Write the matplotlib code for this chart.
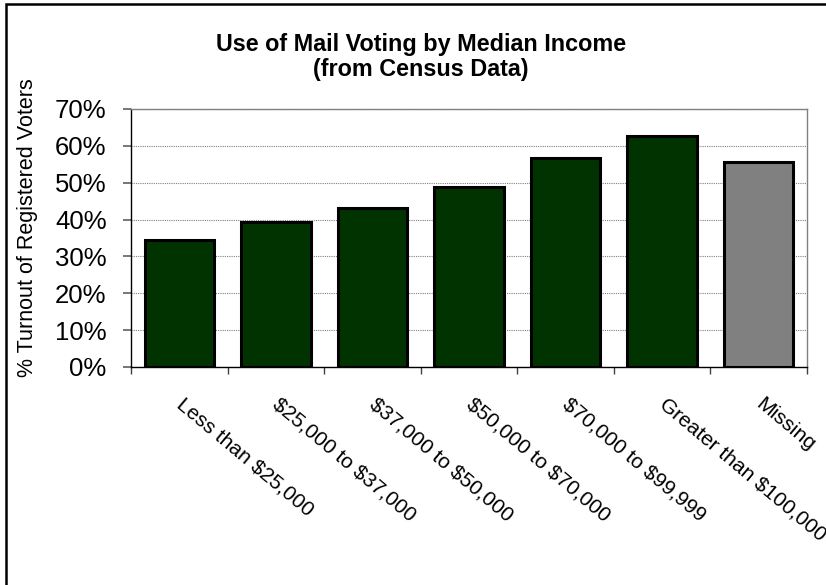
import numpy as np
import matplotlib
matplotlib.use("Agg")
import matplotlib.pyplot as plt
from matplotlib.patches import Rectangle

plt.rcParams['font.family'] = ['Liberation Sans', 'DejaVu Sans']
plt.rcParams['text.parse_math'] = False  # keep the dollar signs literal

# mail voting turnout by median income bracket (percent of registered voters)
categories = ["Less than $25,000", "$25,000 to $37,000", "$37,000 to $50,000",
              "$50,000 to $70,000", "$70,000 to $99,999", "Greater than $100,000",
              "Missing"]
turnout = [34.4, 39.3, 43.2, 48.8, 56.8, 62.7, 55.7]
bar_colors = ["#003300"] * 6 + ["#808080"]
ytick_vals = [0, 10, 20, 30, 40, 50, 60, 70]


def main():
    fig = plt.figure(figsize=(8.26, 5.85), dpi=100)
    ax = fig.add_axes([131 / 826, 1 - 367 / 585, 676 / 826, 258 / 585])

    x = np.arange(len(categories))
    ax.grid(axis="y", color="#808080", linestyle=(0, (1, 1)), linewidth=0.8, zorder=0)
    ax.bar(x, turnout, width=0.72, color=bar_colors, edgecolor="black",
           linewidth=2.2, zorder=3)

    ax.set_xlim(-0.5, len(categories) - 0.5)
    ax.set_ylim(0, 70)
    ax.set_yticks(ytick_vals)
    ax.set_yticklabels([f"{v}%" for v in ytick_vals], fontsize=18.5)
    ax.tick_params(axis="y", direction="out", length=6, width=1.2,
                   color="#606060", pad=11.5)

    # labels at the centres, ticks on the category boundaries
    ax.set_xticks(x + 0.06)
    ax.set_xticklabels(categories, fontsize=15, rotation=-40,
                       ha="left", va="top", rotation_mode="anchor")
    ax.tick_params(axis="x", which="major", length=0, pad=20)
    ax.set_xticks(np.arange(len(categories) + 1) - 0.5, minor=True)
    ax.tick_params(axis="x", which="minor", direction="out", length=5,
                   width=1.0, color="#404040")

    ax.spines["left"].set_color("black")
    ax.spines["bottom"].set_color("black")
    ax.spines["top"].set_color("#808080")
    ax.spines["right"].set_color("#808080")
    for s in ax.spines.values():
        s.set_linewidth(1.0)

    ax.set_ylabel("% Turnout of Registered Voters", fontsize=15.5)
    ax.yaxis.set_label_coords(-0.137, 0.54)

    fig.text(421 / 826, 1 - 57 / 585,
             "Use of Mail Voting by Median Income\n(from Census Data)",
             ha="center", va="center", fontsize=16.8, fontweight="bold",
             linespacing=1.08)

    # outer frame
    fig.patches.append(Rectangle((6 / 826, -0.2), 1.2, 1.2 - 4 / 585,
                                 transform=fig.transFigure, fill=False,
                                 edgecolor="black", linewidth=1.8))

    fig.savefig("out.png", dpi=100)


if __name__ == "__main__":
    main()
